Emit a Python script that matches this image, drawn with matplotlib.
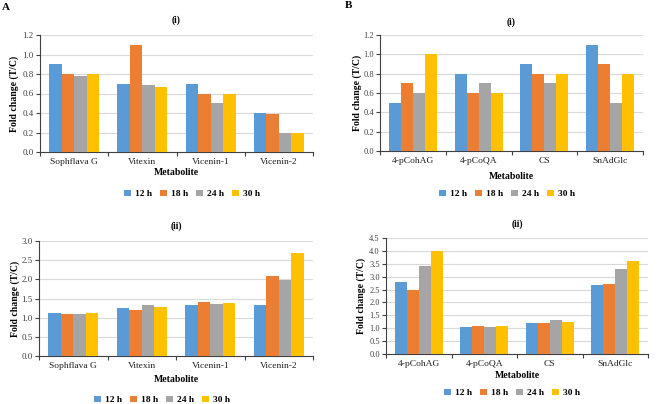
import matplotlib
matplotlib.use("Agg")
import matplotlib.pyplot as plt
import numpy as np

plt.rcParams['font.family'] = ['Liberation Serif', 'DejaVu Serif']

series = ["12 h", "18 h", "24 h", "30 h"]
colors = ["#5B9BD5", "#ED7D31", "#A5A5A5", "#FFC000"]

cats_A = ["Sophflava G", "Vitexin", "Vicenin-1", "Vicenin-2"]
cats_B = ["4-pCohAG", "4-pCoQA", "CS", "SnAdGlc"]

A1_12 = [0.90, 0.70, 0.70, 0.40]
A1_18 = [0.80, 1.10, 0.60, 0.39]
A1_24 = [0.78, 0.69, 0.50, 0.20]
A1_30 = [0.80, 0.67, 0.60, 0.19]

B1_12 = [0.50, 0.80, 0.90, 1.10]
B1_18 = [0.70, 0.60, 0.80, 0.90]
B1_24 = [0.60, 0.70, 0.70, 0.50]
B1_30 = [1.00, 0.60, 0.80, 0.80]

A2_12 = [1.12, 1.26, 1.32, 1.32]
A2_18 = [1.10, 1.20, 1.40, 2.10]
A2_24 = [1.10, 1.33, 1.36, 1.97]
A2_30 = [1.13, 1.29, 1.38, 2.70]

B2_12 = [2.80, 1.05, 1.20, 2.68]
B2_18 = [2.50, 1.10, 1.20, 2.72]
B2_24 = [3.40, 1.05, 1.30, 3.30]
B2_30 = [4.00, 1.10, 1.25, 3.62]

W, H = 660, 404
fig = plt.figure(figsize=(W / 100, H / 100), dpi=100)


def px_axes(left, right, top, bottom):
    return fig.add_axes([left / W, 1 - bottom / H, (right - left) / W, (bottom - top) / H])


def panel(rect, cats, data, ymax, ystep, title, title_y, ylab_x, xlab_y, leg_x, leg_y,
          ytick_size=6.5):
    ax = px_axes(*rect)
    x = np.arange(len(cats))
    bw = 0.183
    for i, (vals, c) in enumerate(zip(data, colors)):
        ax.bar(x + (i - 1.5) * bw, vals, bw, color=c, label=series[i], zorder=3)
    ax.set_xlim(-0.5, len(cats) - 0.5)
    ax.set_ylim(0, ymax)
    yt = np.arange(0, ymax + 1e-9, ystep)
    ax.set_yticks(yt)
    ax.set_yticklabels([f"{v:.1f}" for v in yt], fontsize=ytick_size, color="#404040")
    ax.set_xticks(x)
    ax.set_xticklabels(cats, fontsize=6.8, color="#202020")
    ax.set_xticks(np.arange(-0.5, len(cats) + 0.5, 1), minor=True)
    ax.tick_params(axis='x', which='major', length=0, pad=4)
    ax.tick_params(axis='x', which='minor', length=3, color="#404040", width=0.8)
    ax.tick_params(axis='y', length=3, color="#404040", width=0.8, pad=1.5)
    ax.grid(axis='y', color="#D9D9D9", linewidth=0.8, zorder=0)
    for s in ["top", "right"]:
        ax.spines[s].set_visible(False)
    for s in ["left", "bottom"]:
        ax.spines[s].set_color("#404040")
        ax.spines[s].set_linewidth(0.8)
    ax.set_axisbelow(True)
    cx = (rect[0] + rect[1]) / 2
    fig.text(cx / W, 1 - title_y / H, title, ha="center", va="center",
             fontsize=7, fontweight="bold")
    fig.text(ylab_x / W, 1 - ((rect[2] + rect[3]) / 2) / H, "Fold change (T/C)",
             rotation=90, ha="center", va="center", fontsize=7, fontweight="bold")
    fig.text(cx / W, 1 - xlab_y / H, "Metabolite", ha="center", va="center",
             fontsize=7, fontweight="bold")
    fig.legend(*ax.get_legend_handles_labels(), loc="center",
               bbox_to_anchor=(leg_x / W, 1 - leg_y / H), ncol=4, frameon=False,
               prop={"weight": "bold", "size": 6.8}, handlelength=0.7,
               handleheight=0.7, handletextpad=0.4, columnspacing=0.9)
    return ax


panel((40, 313, 35, 152), cats_A, [A1_12, A1_18, A1_24, A1_30], 1.2, 0.2,
      "(i)", 20, 14, 173, 192, 194)
panel((380, 643, 35, 151), cats_B, [B1_12, B1_18, B1_24, B1_30], 1.2, 0.2,
      "(i)", 22, 357, 177, 507, 194, ytick_size=6)
panel((39, 313, 241, 356), cats_A, [A2_12, A2_18, A2_24, A2_30], 3.0, 0.5,
      "(ii)", 226, 15, 379, 162, 400)
panel((386, 648, 238, 354), cats_B, [B2_12, B2_18, B2_24, B2_30], 4.5, 0.5,
      "(ii)", 224, 361, 375, 512, 393, ytick_size=6)

fig.text(2 / W, 1 - 8 / H, "A", ha="left", va="center", fontsize=8, fontweight="bold")
fig.text(345 / W, 1 - 6 / H, "B", ha="left", va="center", fontsize=8, fontweight="bold")

fig.savefig("out.png", dpi=100)
